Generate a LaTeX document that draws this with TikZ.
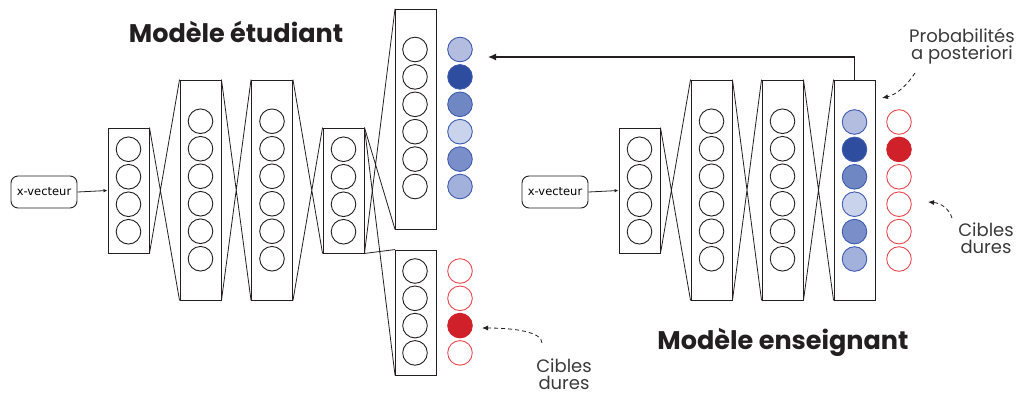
\documentclass[tikz,border=0pt]{standalone}
\usepackage{fontspec}
\setmainfont{Poppins}
\newfontfamily\xvfont{DejaVu Sans}
\usetikzlibrary{arrows.meta}
\definecolor{ink}{HTML}{231F20}
\definecolor{lbl}{HTML}{3A3A3A}
\definecolor{bA}{HTML}{B2BDE0}
\definecolor{bB}{HTML}{2F4D9E}
\definecolor{bC}{HTML}{6F88C4}
\definecolor{bD}{HTML}{CAD3EC}
\definecolor{bE}{HTML}{7A8EC9}
\definecolor{bF}{HTML}{A2B0DC}
\definecolor{bline}{HTML}{3D5BB0}
\definecolor{rfill}{HTML}{D0202A}
\definecolor{rline}{HTML}{E8474C}
\tikzset{
  layerbox/.style={draw=ink, line width=0.9pt, minimum width=41pt, inner sep=0pt},
  neuron/.style={circle, draw=ink, line width=0.9pt, minimum size=24.6pt, inner sep=0pt},
  blueneuron/.style={circle, draw=bline, line width=0.9pt, minimum size=24.6pt, inner sep=0pt},
  redneuron/.style={circle, draw=rline, line width=0.9pt, minimum size=24.6pt, inner sep=0pt},
  xvbox/.style={draw=ink, rounded corners=7pt, line width=0.9pt, minimum width=66pt, minimum height=32pt, inner sep=0pt, font=\xvfont\fontsize{11.5}{13}\selectfont},
  cross/.style={draw=ink, line width=0.8pt},
  title/.style={font=\fontsize{25.5}{30}\selectfont\bfseries, text=ink},
  note/.style={font=\fontsize{18}{20}\selectfont, text=lbl, align=center},
  dasharrow/.style={dash pattern=on 4pt off 3pt, draw=ink, line width=0.8pt, -{Latex[length=6pt,width=5pt]}},
}
\begin{document}
\begin{tikzpicture}[x=1pt,y=-1pt]
\useasboundingbox (0,0) rectangle (1017,394);
% ---------------- Student ----------------
\node[xvbox] (sxv) at (44,192) {x-vecteur};
\node[layerbox, minimum height=125pt] (s1) at (128.5,190.5) {};
\node[layerbox, minimum height=220pt] (s2) at (200.5,190) {};
\node[layerbox, minimum height=220pt] (s3) at (272,190) {};
\node[layerbox, minimum height=125pt] (s4) at (343.5,190.5) {};
\node[layerbox, minimum height=220pt] (so) at (416,119) {};
\node[layerbox, minimum height=125pt] (sb) at (416,312.5) {};
\foreach \k in {0,...,3} {
  \node[neuron] (s1c\k) at (128.5,149.25+27.5*\k) {};
  \node[neuron] (s4c\k) at (343.5,149.25+27.5*\k) {};
  \node[neuron] (sbc\k) at (415,271+27.3*\k) {};
}
\foreach \k in {0,...,5} {
  \node[neuron] (s2c\k) at (200.5,121.25+27.5*\k) {};
  \node[neuron] (s3c\k) at (272,121.25+27.5*\k) {};
  \node[neuron] (soc\k) at (415,49.5+27.4*\k) {};
}
\foreach \k/\c in {0/bA,1/bB,2/bC,3/bD,4/bE,5/bF}
  \node[blueneuron, fill=\c] (sp\k) at (460,49.5+27.4*\k) {};
\node[redneuron] (sr0) at (460,271) {};
\node[redneuron] (sr1) at (460,298.3) {};
\node[redneuron, fill=rfill, draw=rfill] (sr2) at (460,325.6) {};
\node[redneuron] (sr3) at (460,352.9) {};
\draw[ink, line width=0.8pt, -{Latex[length=4pt,width=3.5pt]}] (sxv.east) -- (s1.west);
\draw[cross] (s1.north east) -- (s2.south west) (s1.south east) -- (s2.north west);
\draw[cross] (s2.north east) -- (s3.south west) (s2.south east) -- (s3.north west);
\draw[cross] (s3.north east) -- (s4.south west) (s3.south east) -- (s4.north west);
\draw[cross] (s4.north east) -- (so.south west) (s4.south east) -- (so.north west);
\draw[cross] (s4.north east) -- (sb.south west) (s4.south east) -- (sb.north west);
\node[title] (stitle) at (236,32) {Modèle étudiant};
% ---------------- Teacher ----------------
\node[xvbox] (txv) at (555,192) {x-vecteur};
\node[layerbox, minimum height=125pt] (t1) at (639.5,190.5) {};
\node[layerbox, minimum height=220pt] (t2) at (711.5,190) {};
\node[layerbox, minimum height=220pt] (t3) at (782.5,190) {};
\node[layerbox, minimum height=220pt] (to) at (854.5,190) {};
\foreach \k in {0,...,3}
  \node[neuron] (t1c\k) at (639.5,149.25+27.5*\k) {};
\foreach \k in {0,...,5} {
  \node[neuron] (t2c\k) at (711.5,121.25+27.5*\k) {};
  \node[neuron] (t3c\k) at (782.5,121.25+27.5*\k) {};
}
\foreach \k/\c in {0/bA,1/bB,2/bC,3/bD,4/bE,5/bF}
  \node[blueneuron, fill=\c] (tp\k) at (854.5,122+27.4*\k) {};
\foreach \k in {0,2,3,4,5}
  \node[redneuron] (tr\k) at (899,122+27.4*\k) {};
\node[redneuron, fill=rfill, draw=rfill] (tr1) at (899,149.4) {};
\draw[ink, line width=0.8pt, -{Latex[length=4pt,width=3.5pt]}] (txv.east) -- (t1.west);
\draw[cross] (t1.north east) -- (t2.south west) (t1.south east) -- (t2.north west);
\draw[cross] (t2.north east) -- (t3.south west) (t2.south east) -- (t3.north west);
\draw[cross] (t3.north east) -- (to.south west) (t3.south east) -- (to.north west);
\node[title] (ttitle) at (783,342) {Modèle enseignant};
% ---------------- distillation arrow ----------------
\coordinate (arrtip) at (488,57);
\draw[ink, line width=1.2pt, -{Latex[length=8pt,width=7pt]}] (to.north) |- (arrtip);
% ---------------- notes ----------------
\node[note] (lprob) at (962,46) {Probabilités\\[-3pt]a posteriori};
\node[note] (lctea) at (986,238) {Cibles\\[-3pt]dures};
\node[note] (lcstu) at (564,374) {Cibles\\[-3pt]dures};
\coordinate (pa) at (915,73);
\coordinate (pb) at (882,98);
\draw[dasharrow] (pa) .. controls (905,88) and (895,95) .. (pb);
\coordinate (ca) at (952,218);
\coordinate (cb) at (928,202);
\draw[dasharrow] (ca) .. controls (949,208) and (940,203) .. (cb);
\coordinate (da) at (542,343);
\coordinate (db) at (482,328);
\draw[dasharrow] (da) .. controls (542,332) and (515,328) .. (db);
\end{tikzpicture}
\end{document}
